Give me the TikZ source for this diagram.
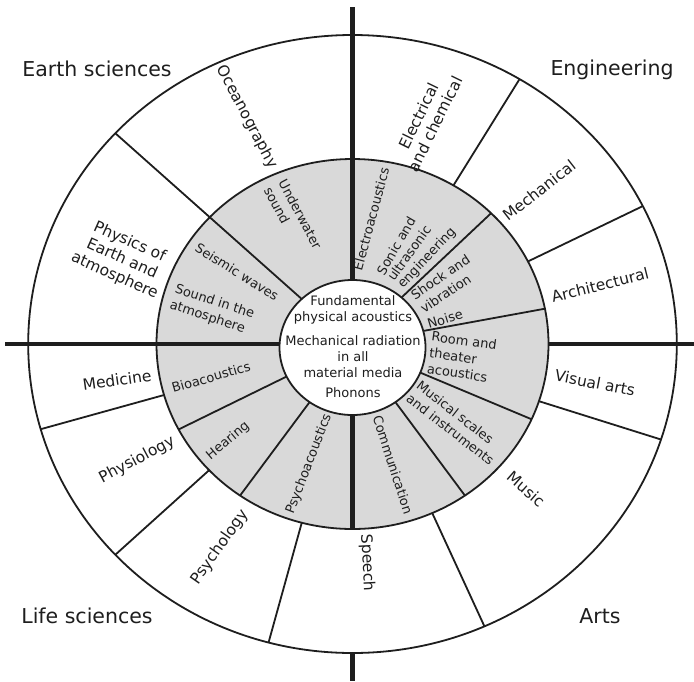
\documentclass[tikz,border=0pt]{standalone}
\usepackage{fontspec}
\setmainfont{DejaVu Sans}
\usetikzlibrary{calc}
\definecolor{ringgrey}{HTML}{D9D9D9}
\definecolor{ink}{HTML}{1E1E1E}
\begin{document}
\begin{tikzpicture}[x=1pt,y=1pt,
  thinline/.style={line width=1.8pt, draw=ink},
  thickline/.style={line width=4.2pt, draw=ink},
  quad/.style={font=\fontsize{20.5}{24}\selectfont, text=ink, inner sep=0pt},
  outerlbl/.style={font=\fontsize{15.5}{18.5}\selectfont, text=ink, align=center, inner sep=0pt},
  midlbl/.style={font=\fontsize{13}{16.5}\selectfont, text=ink, align=left, inner sep=0pt},
  corelbl/.style={font=\fontsize{13}{16}\selectfont, text=ink, align=center, inner sep=0pt},
]
\useasboundingbox (0,0) rectangle (694,-681);
\fill[white] (0,0) rectangle (694,-681);
\coordinate (C) at (352.5,-344);
\coordinate (Ci) at (352.5,-347.5);
% grey middle ring
\fill[ringgrey] (C) ellipse [x radius=196, y radius=185];

% radial dividers
\foreach \a in {137}
  \draw[thinline] ($(C)+(\a:60 and 57)$) -- ($(C)+(\a:324.3 and 309)$);
\foreach \a in {45,11,336,305,235,207.5}
  \draw[thinline] ($(C)+(\a:60 and 57)$) -- ($(C)+(\a:196 and 185)$);
\foreach \a in {59,26.5,342,294,255,223,196}
  \draw[thinline] ($(C)+(\a:196 and 185)$) -- ($(C)+(\a:324.3 and 309)$);

% thick axes
\coordinate (topend) at (352.5,-7);
\coordinate (leftend) at (5,-344);
\coordinate (rightend) at (694,-344);
\coordinate (botend) at (352.5,-681);
\draw[thickline] (C) -- (topend);
\draw[thickline] (C) -- (leftend);
\draw[thickline] ($(C)+(0:196 and 185)$) -- (rightend);
\draw[thickline] (C) -- ($(C)+(270:196 and 185)$);
\draw[thickline] ($(C)+(270:324.3 and 309)$) -- (botend);

% ring borders
\draw[thinline] (C) ellipse [x radius=196, y radius=185];
\draw[thinline] (C) ellipse [x radius=324.3, y radius=309];
\draw[thinline, fill=white] (Ci) ellipse [x radius=73, y radius=67.5];

% quadrant labels
\node[quad] (earth) at (97,-69) {Earth sciences};
\node[quad] (eng) at (612,-70) {Engineering};
\node[quad] (life) at (87,-616) {Life sciences};
\node[quad] (arts) at (600,-616) {Arts};

% outer ring labels
\node[outerlbl, rotate=-62] (ocean) at (247,-117) {Oceanography};
\node[outerlbl, rotate=-24] (physearth) at (122,-259) {Physics of\\Earth and\\atmosphere};
\node[outerlbl, rotate=8] (medicine) at (117,-380) {Medicine};
\node[outerlbl, rotate=28] (physio) at (137,-460) {Physiology};
\node[outerlbl, rotate=55] (psychol) at (220,-547) {Psychology};
\node[outerlbl, rotate=-87] (speech) at (367,-563) {Speech};
\node[outerlbl, rotate=-41] (music) at (526,-489) {Music};
\node[outerlbl, rotate=-11] (visual) at (595,-383) {Visual arts};
\node[outerlbl, rotate=14] (archi) at (600,-285) {Architectural};
\node[outerlbl, rotate=38] (mech) at (539,-190) {Mechanical};
\node[outerlbl, rotate=64] (elec) at (427,-120) {Electrical\\and chemical};

% middle ring labels
\node[midlbl, rotate=-62] (underwater) at (293,-218) {Underwater\\sound};
\node[midlbl, rotate=-32] (seismic) at (237,-272) {Seismic waves};
\node[midlbl, rotate=-18] (soundatm) at (212,-310) {Sound in the\\atmosphere};
\node[midlbl, rotate=16] (bio) at (211,-377) {Bioacoustics};
\node[midlbl, rotate=40] (hearing) at (228,-441) {Hearing};
\node[midlbl, rotate=69] (psychoac) at (309,-464) {Psychoacoustics};
\node[midlbl, rotate=-72] (comm) at (393,-465) {Communication};
\node[midlbl, rotate=-38] (musical) at (455.5,-423) {Musical scales\\and instruments};
\node[midlbl, rotate=-8] (room) at (462,-357) {Room and\\theater\\acoustics};
\node[midlbl, rotate=17] (noise) at (445,-319) {Noise};
\node[midlbl, rotate=34] (shock) at (445,-284) {Shock and\\vibration};
\node[midlbl, rotate=60] (sonicA) at (396,-246) {Sonic and};
\node[midlbl, rotate=54] (sonicB) at (409,-253) {ultrasonic};
\node[midlbl, rotate=47] (sonicC) at (427,-258) {engineering};
\node[midlbl, rotate=75] (electroac) at (371,-219) {Electroacoustics};

% core labels
\node[corelbl] (fund) at (353,-310) {Fundamental\\physical acoustics};
\node[corelbl] (mechrad) at (353,-357) {Mechanical radiation\\in all\\material media};
\node[corelbl] (phonons) at (353,-393) {Phonons};
\end{tikzpicture}
\end{document}
